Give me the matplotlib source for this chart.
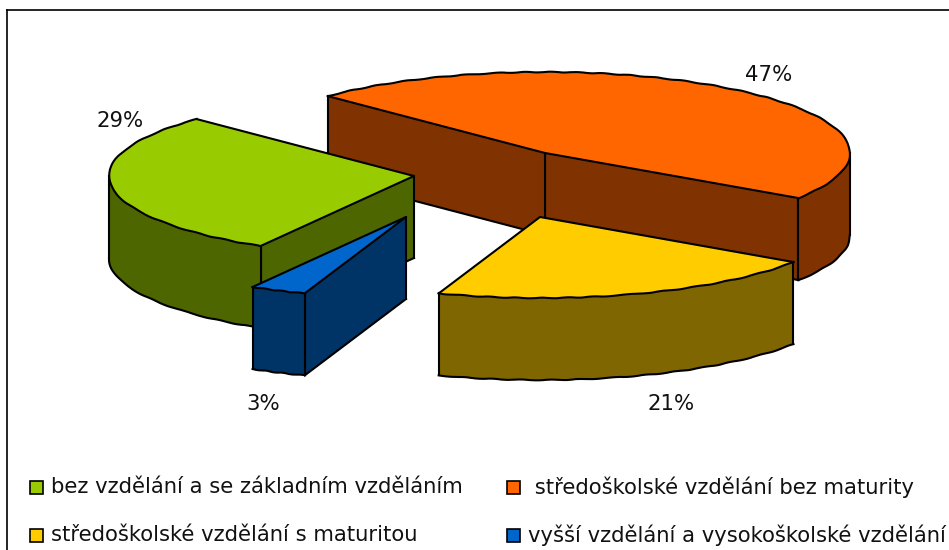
import numpy as np
import matplotlib
matplotlib.use('Agg')
import matplotlib.pyplot as plt
from matplotlib.patches import Polygon, Rectangle

# shares in the order of the pie (clockwise)
categories = ['bez vzdělání a se základním vzděláním',
              ' středoškolské vzdělání bez maturity',
              'středoškolské vzdělání s maturitou',
              'vyšší vzdělání a vysokoškolské vzdělání']
values = [29, 47, 21, 3]
labels = ['29%', '47%', '21%', '3%']
top_colors = ['#99CC00', '#FF6600', '#FFCC00', '#0066CC']
side_colors = ['#4D6600', '#803300', '#806600', '#003366']

# layout, in pixels of the 949x550 picture
centers = [(414, 176), (545, 153), (540, 217), (406, 217)]
label_pos = [(120, 121), (769, 75), (671, 404), (263, 404)]
legend_pos = [(30, 487), (507, 487), (30, 535), (507, 535)]
text_x = [51, 528, 51, 528]
A, B, DEPTH = 305, 81, 82
START = 239.8  # front edge of the first slice

plt.rcParams['font.family'] = 'DejaVu Sans'
fig = plt.figure(figsize=(9.49, 5.5), dpi=100)
ax = fig.add_axes([0, 0, 1, 1])
ax.set_xlim(0, 949)
ax.set_ylim(550, 0)
ax.axis('off')


def arc(c, t1, t2):
    t = np.radians(np.linspace(t1, t2, 80))
    return np.column_stack([c[0] + A * np.cos(t), c[1] - B * np.sin(t)])


def wall(pts, color, z, wavy=False):
    low = pts[::-1] + [0, DEPTH]
    ax.add_patch(Polygon(np.vstack([pts, low]), closed=True, fc=color, ec='none', zorder=z))
    line = ax.plot(pts[:, 0], pts[:, 1] + DEPTH, color='k', lw=1.5, zorder=z + 0.2)[0]
    if wavy:
        line.set_sketch_params(0.35, 30, 2)
    for p in (pts[0], pts[-1]):
        ax.plot([p[0], p[0]], [p[1], p[1] + DEPTH], color='k', lw=1.5, zorder=z + 0.2)


# slice edges from the values, clockwise
edges = START - np.cumsum([0] + values) * 3.6
order = [1, 0, 2, 3]  # back to front
# which cut faces show, and how far the outer wall runs
cut_start = {0: True, 1: True, 2: False, 3: True}
cut_end = {0: False, 1: True, 2: False, 3: False}
wall_range = {0: (180, edges[0]), 1: (edges[2], 0), 2: (edges[3], edges[2]), 3: (edges[4], edges[3])}

for n, i in enumerate(order):
    c = centers[i]
    t1, t2 = edges[i], edges[i + 1]
    z = 10 * (n + 1)
    start_pt = arc(c, t1, t1)[0]
    end_pt = arc(c, t2, t2)[0]
    apex = np.array(c, dtype=float)

    # in the orange slice the far cut sits behind the near one
    if cut_end[i]:
        wall(np.array([apex, end_pt]), side_colors[i], z)
    if cut_start[i]:
        wall(np.array([start_pt, apex]), side_colors[i], z + 1)

    lo, hi = wall_range[i]
    wall(arc(c, lo, hi), side_colors[i], z + 2, wavy=True)

    rim = arc(c, t1, t2)
    ax.add_patch(Polygon(np.vstack([apex, rim]), closed=True, fc=top_colors[i], ec='none', zorder=z + 3))
    ax.plot(rim[:, 0], rim[:, 1], color='k', lw=1.5, zorder=z + 4)[0].set_sketch_params(0.35, 30, 2)
    ax.plot([start_pt[0], apex[0], end_pt[0]], [start_pt[1], apex[1], end_pt[1]],
            color='k', lw=1.5, zorder=z + 4)

for (x, y), s in zip(label_pos, labels):
    ax.text(x, y, s, ha='center', va='center', fontsize=15.3, color='#111111', zorder=100)

for (x, y), tx, s, col in zip(legend_pos, text_x, categories, top_colors):
    ax.add_patch(Rectangle((x, y - 6), 13, 13, fc=col, ec='k', lw=1.2, zorder=100))
    ax.text(tx, y, s, ha='left', va='center', fontsize=15.2, color='#111111', zorder=100)

# chart frame
ax.plot([7, 7], [550, 10], color='k', lw=1.2, zorder=100)
ax.plot([7, 949], [10, 10], color='k', lw=1.2, zorder=100)

fig.savefig('out.png', dpi=100)
